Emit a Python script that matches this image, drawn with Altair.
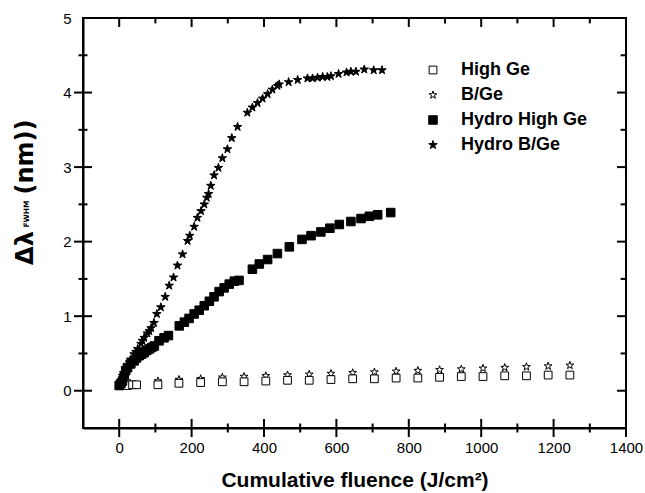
import altair as alt
import pandas as pd

# ---------------- data ----------------
series_order = ["High Ge", "B/Ge", "Hydro High Ge", "Hydro B/Ge"]

high_ge_x = [8, 23, 37, 48, 107, 165, 225, 285, 345, 405, 465, 525, 585, 645,
             705, 765, 825, 885, 945, 1005, 1065, 1125, 1185, 1245]
high_ge_y = [0.07, 0.07, 0.08, 0.08, 0.08, 0.10, 0.11, 0.12, 0.12, 0.13, 0.14,
             0.14, 0.15, 0.16, 0.16, 0.17, 0.17, 0.18, 0.19, 0.19, 0.20, 0.20,
             0.21, 0.21]

bge_x = [10, 30, 107, 165, 225, 285, 345, 405, 465, 525, 585, 645, 705, 765,
         825, 885, 945, 1005, 1065, 1125, 1185, 1245]
bge_y = [0.08, 0.10, 0.13, 0.15, 0.16, 0.18, 0.19, 0.20, 0.21, 0.22, 0.23,
         0.24, 0.25, 0.26, 0.27, 0.28, 0.29, 0.30, 0.31, 0.32, 0.33, 0.34]

hydro_high_x = [0, 5, 9, 14, 18, 23, 32, 41, 48, 55, 62, 69, 76, 83, 90, 97,
                110, 124, 136, 166, 180, 193, 207, 221, 235, 249, 262, 276,
                290, 304, 318, 331, 368, 387, 410, 437, 470, 505, 530, 557,
                582, 608, 640, 668, 691, 714, 750]
hydro_high_y = [0.07, 0.10, 0.13, 0.20, 0.27, 0.31, 0.36, 0.40, 0.44, 0.47,
                0.49, 0.51, 0.54, 0.56, 0.58, 0.60, 0.67, 0.71, 0.74, 0.87,
                0.92, 0.97, 1.03, 1.08, 1.14, 1.20, 1.26, 1.33, 1.38, 1.43,
                1.47, 1.48, 1.63, 1.70, 1.76, 1.84, 1.93, 2.03, 2.08, 2.13,
                2.18, 2.23, 2.27, 2.31, 2.34, 2.36, 2.39]

hydro_bge_x = [0, 5, 9, 13, 17, 23, 28, 32, 41, 46, 51, 60, 64, 69, 78, 83,
               88, 96, 104, 115, 127, 138, 150, 161, 175, 189, 195, 207, 216,
               226, 235, 242, 247, 253, 262, 274, 285, 299, 311, 327, 354,
               368, 382, 396, 410, 423, 437, 442, 468, 493, 520, 534, 548,
               562, 575, 585, 606, 628, 640, 654, 677, 703, 726]
hydro_bge_y = [0.09, 0.13, 0.20, 0.24, 0.27, 0.34, 0.38, 0.42, 0.49, 0.52,
               0.56, 0.63, 0.67, 0.71, 0.77, 0.80, 0.84, 0.91, 1.03, 1.12,
               1.26, 1.41, 1.52, 1.68, 1.83, 2.01, 2.08, 2.20, 2.32, 2.41,
               2.50, 2.59, 2.64, 2.75, 2.89, 2.99, 3.12, 3.24, 3.39, 3.54,
               3.73, 3.80, 3.86, 3.92, 3.98, 4.04, 4.09, 4.11, 4.14, 4.17,
               4.19, 4.19, 4.20, 4.21, 4.21, 4.22, 4.25, 4.27, 4.28, 4.28,
               4.31, 4.30, 4.30]

x_major = [0, 200, 400, 600, 800, 1000, 1200, 1400]
x_minor = [100, 300, 500, 700, 900, 1100, 1300]
y_major = [0, 1, 2, 3, 4, 5]
y_minor = [0.5, 1.5, 2.5, 3.5, 4.5]

X_MIN, X_MAX = -100, 1400
Y_MIN, Y_MAX = -0.5, 5

# ---------------- tables ----------------
rows = []
for name, xs, ys in [("B/Ge", bge_x, bge_y),
                     ("High Ge", high_ge_x, high_ge_y),
                     ("Hydro High Ge", hydro_high_x, hydro_high_y),
                     ("Hydro B/Ge", hydro_bge_x, hydro_bge_y)]:
    assert len(xs) == len(ys), name
    rows += [{"series": name, "fluence": a, "dfwhm": b} for a, b in zip(xs, ys)]
df = pd.DataFrame(rows)

STAR = ("M0,-1L0.2245,-0.309L0.951,-0.309L0.363,0.118L0.588,0.809L0,0.382"
        "L-0.588,0.809L-0.363,0.118L-0.951,-0.309L-0.2245,-0.309Z")

W, H = 543, 410
PX_X = W / (X_MAX - X_MIN)
PX_Y = H / (Y_MAX - Y_MIN)
TH = 2.0                     # line thickness in px
hx, hy = TH / 2 / PX_X, TH / 2 / PX_Y

FONT = "Liberation Sans"
xscale = alt.Scale(domain=[X_MIN, X_MAX], nice=False, zero=False)
yscale = alt.Scale(domain=[Y_MIN, Y_MAX], nice=False, zero=False)
xaxis = alt.Axis(values=x_major, format="d", ticks=False,
                 domain=True, domainColor="black", domainWidth=TH,
                 grid=False, labelFont=FONT, labelFontSize=15,
                 labelColor="black", labelPadding=12, labelFlush=False,
                 title="Cumulative fluence (J/cm²)", titleFont=FONT,
                 titleFontSize=21, titleFontWeight="bold", titleColor="black",
                 titlePadding=14)
yaxis = alt.Axis(values=y_major, format="d", ticks=False,
                 domain=True, domainColor="black", domainWidth=TH,
                 grid=False, labelFont=FONT, labelFontSize=15,
                 labelColor="black", labelPadding=12, labelFlush=False,
                 title=None)


def X(field="fluence"):
    return alt.X(field, type="quantitative", scale=xscale, axis=xaxis)


def Y(field="dfwhm"):
    return alt.Y(field, type="quantitative", scale=yscale, axis=yaxis)


leg = dict(orient="none", legendX=341, legendY=43, title=None)
points = alt.Chart(df).mark_point(filled=True, stroke="black",
                                  strokeWidth=1, opacity=1).encode(
    x=X(), y=Y(),
    shape=alt.Shape("series:N", sort=series_order,
                    scale=alt.Scale(domain=series_order,
                                    range=["square", STAR, "square", STAR]),
                    legend=alt.Legend(**leg, labelFont=FONT,
                                      labelFontSize=18, labelFontWeight="bold",
                                      labelColor="black", rowPadding=7,
                                      labelOffset=19, symbolStrokeColor="black",
                                      symbolStrokeWidth=1)),
    fill=alt.Fill("series:N", sort=series_order,
                  scale=alt.Scale(domain=series_order,
                                  range=["white", "white", "black", "black"]),
                  legend=alt.Legend(**leg)),
    size=alt.Size("series:N", sort=series_order,
                  scale=alt.Scale(domain=series_order,
                                  range=[60, 80, 64, 115]),
                  legend=alt.Legend(**leg)),
)

# frame and tick marks as thin filled rectangles (x0,x1,y0,y1 in data units)
recs = []
# frame
recs += [(X_MIN - hx, X_MIN + hx, Y_MIN - hy, Y_MAX + hy),
         (X_MAX - hx, X_MAX + hx, Y_MIN - hy, Y_MAX + hy),
         (X_MIN - hx, X_MAX + hx, Y_MIN - hy, Y_MIN + hy),
         (X_MIN - hx, X_MAX + hx, Y_MAX - hy, Y_MAX + hy)]
# bottom: crossing ticks; top: inward ticks
recs += [(v - hx, v + hx, Y_MIN - 9 / PX_Y, Y_MIN + 9 / PX_Y) for v in x_major]
recs += [(v - hx, v + hx, Y_MIN - 4.5 / PX_Y, Y_MIN + 4.5 / PX_Y) for v in x_minor]
recs += [(v - hx, v + hx, Y_MAX - 9 / PX_Y, Y_MAX) for v in x_major]
recs += [(v - hx, v + hx, Y_MAX - 5.4 / PX_Y, Y_MAX) for v in x_minor]
# left: crossing ticks; right: inward ticks
recs += [(X_MIN - 9 / PX_X, X_MIN + 9 / PX_X, v - hy, v + hy) for v in y_major[:-1]]
recs += [(X_MIN - 4.5 / PX_X, X_MIN + 4.5 / PX_X, v - hy, v + hy) for v in y_minor]
recs += [(X_MAX - 9 / PX_X, X_MAX, v - hy, v + hy) for v in y_major[:-1]]
recs += [(X_MAX - 5.4 / PX_X, X_MAX, v - hy, v + hy) for v in y_minor]
rdf = pd.DataFrame(recs, columns=["fluence", "fluence_end", "dfwhm", "dfwhm_end"])

frame = alt.Chart(rdf).mark_rect(color="black", opacity=1).encode(
    x=X(), x2=alt.X2("fluence_end"), y=Y(), y2=alt.Y2("dfwhm_end"))

ytitle_main = alt.Chart(pd.DataFrame({"t": ["Δλ"]})).mark_text(
    angle=270, font="DejaVu Sans", fontWeight="bold", fontSize=24,
    align="center", baseline="middle", color="black").encode(
    x=alt.value(-57), y=alt.value(230), text="t:N")
ytitle_sub = alt.Chart(pd.DataFrame({"t": ["FWHM"]})).mark_text(
    angle=270, font="DejaVu Sans", fontWeight="bold", fontSize=7.5,
    align="center", baseline="middle", color="black").encode(
    x=alt.value(-56), y=alt.value(196), text="t:N")
ytitle_unit = alt.Chart(pd.DataFrame({"t": ["(nm))"]})).mark_text(
    angle=270, font="DejaVu Sans", fontWeight="bold", fontSize=24,
    align="center", baseline="middle", color="black").encode(
    x=alt.value(-57), y=alt.value(139), text="t:N")

chart = alt.layer(
    frame, points, ytitle_main, ytitle_sub, ytitle_unit,
).properties(
    width=W, height=H,
    padding={"left": 83, "top": 18, "right": 19, "bottom": 65},
    autosize=alt.AutoSizeParams(type="none"),
).configure_view(
    stroke="black", strokeWidth=TH
)

chart.save("out.html", embed_options={"renderer": "svg", "actions": False})
